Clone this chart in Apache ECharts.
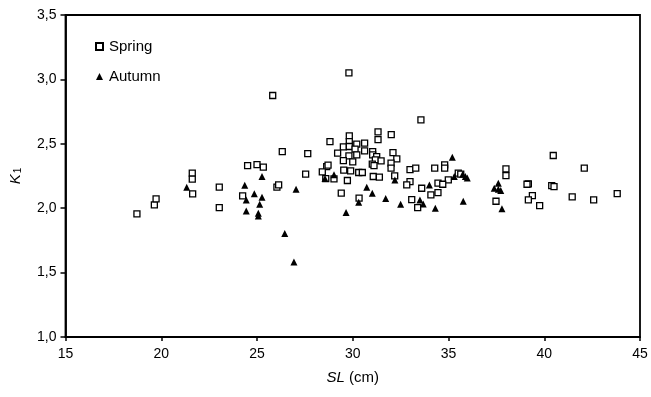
<!DOCTYPE html>
<html><head><meta charset="utf-8">
<script src="https://cdn.jsdelivr.net/npm/echarts@6/dist/echarts.min.js"></script>
<style>html,body{margin:0;padding:0;background:#fff}#c{width:651px;height:397px}</style>
</head><body><div id="c"></div>
<script>
const seriesNames = ['Spring', 'Autumn'];
const springPoints = [
[18.73,1.956],[19.64,2.026],[19.73,2.072],[21.62,2.272],[21.62,2.225],[21.64,2.111],[23.03,2.163],[23.03,2.004],
[24.51,2.331],[25.0,2.339],[25.33,2.319],[24.25,2.096],[25.82,2.875],[29.8,3.05],[26.04,2.163],[26.13,2.181],
[33.56,2.686],[31.32,2.593],[32.01,2.572],[31.32,2.533],[29.82,2.562],[28.81,2.517],[29.82,2.517],[26.32,2.44],
[27.65,2.424],[29.51,2.476],[29.82,2.479],[30.21,2.497],[30.62,2.505],[29.21,2.427],[30.12,2.458],[29.8,2.406],
[30.21,2.414],[30.62,2.445],[31.04,2.44],[29.51,2.37],[30.0,2.36],[31.04,2.414],[31.25,2.40],[31.18,2.375],
[31.48,2.368],[31.02,2.342],[31.11,2.331],[32.1,2.432],[32.3,2.383],[32.0,2.35],[32.0,2.311],[28.64,2.323],
[28.71,2.334],[28.41,2.282],[27.54,2.264],[29.53,2.295],[29.89,2.29],[30.31,2.277],[30.5,2.277],[31.07,2.246],
[31.39,2.241],[32.19,2.251],[32.99,2.30],[33.29,2.311],[34.28,2.311],[29.72,2.215],[29.02,2.228],[28.59,2.23],
[32.99,2.207],[32.82,2.181],[33.6,2.155],[34.45,2.194],[34.45,2.121],[34.08,2.103],[33.08,2.067],[33.39,2.005],
[29.4,2.117],[30.33,2.078],
[40.47,2.409],[42.09,2.311],[38.0,2.305],[38.0,2.253],[39.17,2.189],[39.1,2.186],[40.39,2.176],[40.51,2.168],
[39.38,2.098],[39.17,2.064],[39.76,2.02],[41.46,2.088],[42.58,2.064],[43.81,2.113],[37.48,2.054],[34.8,2.336],
[34.8,2.311],[34.99,2.22],[34.7,2.186],[35.51,2.272],[35.64,2.264]
];
const autumnPoints = [
[21.33,2.163],[24.36,2.179],[25.26,2.246],[24.86,2.113],[25.26,2.085],[24.44,2.064],[25.14,2.031],[24.44,1.979],
[25.07,1.94],[25.07,1.96],[26.45,1.803],[26.93,1.583],[29.02,2.26],[28.55,2.23],[32.2,2.218],[27.04,2.148],
[30.73,2.163],[31.02,2.117],[31.72,2.075],[32.5,2.031],[30.31,2.047],[29.65,1.966],[33.51,2.064],[33.68,2.033],
[34.31,2.0],[34.0,2.181],
[35.2,2.396],[35.3,2.246],[35.74,2.264],[35.88,2.246],[35.98,2.235],[35.77,2.054],[37.6,2.194],[37.39,2.155],
[37.6,2.148],[37.73,2.137],[37.79,1.995]
];
const xTicks = [15, 20, 25, 30, 35, 40, 45];
const yTicks = ['1,0', '1,5', '2,0', '2,5', '3,0', '3,5'];

const font = 'Liberation Sans, Arial, sans-serif';
const chart = echarts.init(document.getElementById('c'), null, {renderer: 'canvas'});
chart.setOption({
  animation: false,
  backgroundColor: '#fff',
  grid: {left: 65.5, right: 11, top: 15, bottom: 60, show: true, borderColor: '#000', borderWidth: 1.8, backgroundColor: 'transparent'},
  legend: {
    orient: 'vertical', left: 90, top: 34, itemGap: 15, itemWidth: 7, itemHeight: 7,
    textStyle: {fontFamily: font, fontSize: 15, color: '#000', padding: [0,0,0,1]},
    data: seriesNames
  },
  xAxis: {
    type: 'value', min: xTicks[0], max: xTicks[xTicks.length-1], interval: 5,
    name: '{i|SL} (cm)', nameLocation: 'middle', nameGap: 33,
    nameTextStyle: {fontFamily: font, fontSize: 15, color: '#000', rich: {i: {fontStyle: 'italic', fontFamily: font, fontSize: 15}}},
    axisLine: {lineStyle: {color: '#000', width: 1.8}},
    axisTick: {show: true, inside: false, length: 4, lineStyle: {color: '#000', width: 1.5}},
    axisLabel: {fontFamily: font, fontSize: 14, color: '#000', margin: 10},
    splitLine: {show: false}
  },
  yAxis: {
    type: 'value', min: 1, max: 3.5, interval: 0.5,
    name: '{k|K}{s|1}', nameLocation: 'middle', nameGap: 42, nameRotate: 90,
    nameTextStyle: {fontFamily: font, fontSize: 15, color: '#000', rich: {k: {fontStyle: 'italic', fontFamily: font, fontSize: 15}, s: {fontFamily: font, fontSize: 10, verticalAlign: 'bottom', padding: [6,0,0,1]}}},
    axisLine: {lineStyle: {color: '#000', width: 1.8}},
    axisTick: {show: true, inside: false, length: 5, lineStyle: {color: '#000', width: 1.5}},
    axisLabel: {fontFamily: font, fontSize: 14, color: '#000', margin: 9,
      formatter: v => yTicks[Math.round((v - 1) / 0.5)]},
    splitLine: {show: false}
  },
  series: [
    {name: seriesNames[0], type: 'scatter', data: springPoints, symbol: 'rect', symbolSize: 6,
     itemStyle: {color: '#fff', borderColor: '#000', borderWidth: 1.3, opacity: 1}},
    {name: seriesNames[1], type: 'scatter', data: autumnPoints, symbol: 'triangle', symbolSize: 7,
     itemStyle: {color: '#000', opacity: 1}}
  ]
});
</script></body></html>
